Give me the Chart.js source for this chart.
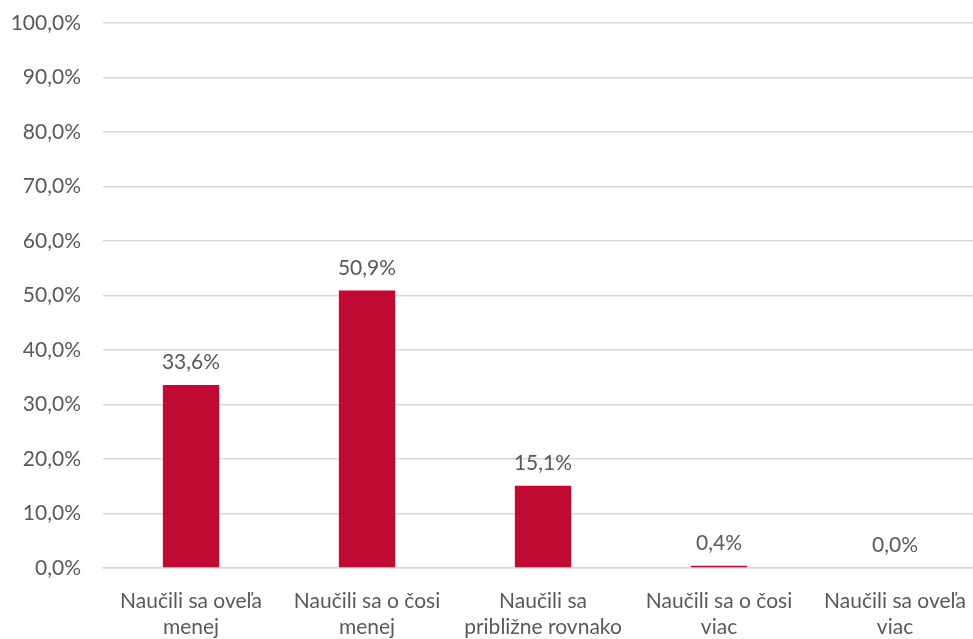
<!DOCTYPE html>
<html>
<head>
<meta charset="utf-8">
<script src="https://cdn.jsdelivr.net/npm/chart.js@4/dist/chart.umd.min.js"></script>
<style>
  html, body { margin: 0; padding: 0; background: #fff; overflow: hidden; }
  #wrap { width: 973px; height: 639px; overflow: hidden; }
  #inner { width: 983px; height: 639px; }
</style>
</head>
<body>
<div id="wrap"><div id="inner"><canvas id="chart"></canvas></div></div>
<script>
// categories (multi-line labels) and values in percent
const categories = [
    ['Naučili sa oveľa', 'menej'],
    ['Naučili sa o čosi', 'menej'],
    ['Naučili sa', 'približne rovnako'],
    ['Naučili sa o čosi', 'viac'],
    ['Naučili sa oveľa', 'viac']
];
const shares = [33.6, 50.9, 15.1, 0.4, 0.0];

const fmt = v => v.toFixed(1).replace('.', ',') + '%';

// simple value labels above bars
const valueLabels = {
    id: 'valueLabels',
    afterDatasetsDraw(chart) {
        const ctx = chart.ctx;
        const meta = chart.getDatasetMeta(0);
        ctx.save();
        ctx.font = '21px Lato';
        ctx.fillStyle = '#595959';
        ctx.textAlign = 'center';
        ctx.textBaseline = 'bottom';
        meta.data.forEach((bar, i) => {
            ctx.fillText(fmt(shares[i]), bar.x, bar.y - 12);
        });
        ctx.restore();
    }
};

new Chart(document.getElementById('chart'), {
    type: 'bar',
    data: {
        labels: categories,
        datasets: [{
            data: shares,
            backgroundColor: '#C00A32',
            categoryPercentage: 1,
            barPercentage: 0.32
        }]
    },
    options: {
        responsive: true,
        maintainAspectRatio: false,
        animation: false,
        layout: { padding: { top: 23, right: 0, left: 0, bottom: 0 } },
        plugins: {
            legend: { display: false },
            tooltip: { enabled: false }
        },
        scales: {
            x: {
                grid: { display: false, drawTicks: false },
                border: { display: true, color: '#d9d9d9', width: 1.5 },
                ticks: {
                    color: '#595959',
                    font: { family: 'Lato', size: 21, lineHeight: 1.25 },
                    padding: 20,
                    maxRotation: 0,
                    autoSkip: false
                },
                afterFit(scale) {
                    scale.height = 71;
                    scale.paddingLeft = 0;
                    scale.paddingRight = 0;
                }
            },
            y: {
                min: 0,
                max: 100,
                ticks: {
                    stepSize: 10,
                    color: '#595959',
                    font: { family: 'Lato', size: 21 },
                    padding: 22,
                    callback: v => fmt(v)
                },
                grid: { color: '#d9d9d9', lineWidth: 1.5, drawTicks: false },
                border: { display: false },
                afterFit(scale) {
                    scale.width = 103;
                    scale.paddingTop = 0;
                    scale.paddingBottom = 0;
                }
            }
        }
    },
    plugins: [valueLabels]
});
</script>
</body>
</html>
